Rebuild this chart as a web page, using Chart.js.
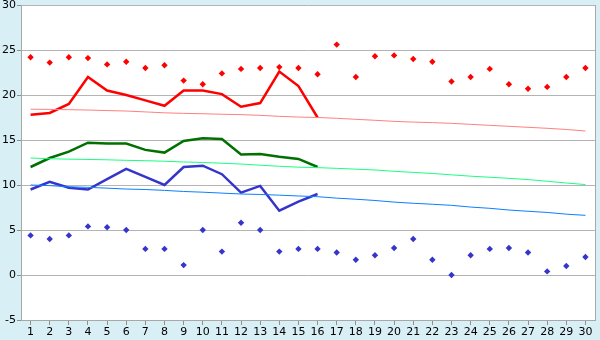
<!DOCTYPE html>
<html>
<head>
<meta charset="utf-8">
<script src="https://cdn.jsdelivr.net/npm/chart.js@4"></script>
<style>
    html, body { margin: 0; padding: 0; background: #d9eff6; }
    #wrap { width: 600px; height: 340px; }
</style>
</head>
<body>
<div id="wrap"><canvas id="tempChart" width="600" height="340"></canvas></div>
<script>
// Days of the month
const days = ['1', '2', '3', '4', '5', '6', '7', '8', '9', '10', '11', '12', '13', '14', '15',
    '16', '17', '18', '19', '20', '21', '22', '23', '24', '25', '26', '27', '28', '29', '30'];

// Record highs / lows (diamonds)
const recordHigh = [24.2, 23.6, 24.2, 24.1, 23.4, 23.7, 23.0, 23.3, 21.6, 21.2, 22.4, 22.9, 23.0, 23.1, 23.0,
    22.3, 25.6, 22.0, 24.3, 24.4, 24.0, 23.7, 21.5, 22.0, 22.9, 21.2, 20.7, 20.9, 22.0, 23.0];
const recordLow = [4.4, 4.0, 4.4, 5.4, 5.3, 5.0, 2.9, 2.9, 1.1, 5.0, 2.6, 5.8, 5.0, 2.6, 2.9,
    2.9, 2.5, 1.7, 2.2, 3.0, 4.0, 1.7, 0.0, 2.2, 2.9, 3.0, 2.5, 0.4, 1.0, 2.0];

// Current month (first 16 days)
const maxTemp = [17.8, 18.0, 19.0, 22.0, 20.5, 20.0, 19.4, 18.8, 20.5, 20.5, 20.1, 18.7, 19.1, 22.6, 21.0, 17.5];
const meanTemp = [12.0, 13.0, 13.7, 14.7, 14.6, 14.6, 13.9, 13.6, 14.9, 15.2, 15.1, 13.4, 13.45, 13.15, 12.9, 12.0];
const minTemp = [9.5, 10.35, 9.7, 9.5, 10.65, 11.8, 10.9, 10.0, 12.0, 12.15, 11.2, 9.15, 9.9, 7.15, 8.15, 9.0];

// Long-term normals (thin lines)
const normalMax = [18.42, 18.40, 18.37, 18.33, 18.27, 18.22, 18.12, 18.02, 17.96, 17.92, 17.86, 17.82, 17.74, 17.63, 17.55,
    17.50, 17.41, 17.30, 17.19, 17.07, 16.99, 16.93, 16.85, 16.74, 16.63, 16.52, 16.41, 16.30, 16.17, 16.00];
const normalMean = [13.0, 12.92, 12.87, 12.84, 12.8, 12.74, 12.7, 12.64, 12.56, 12.5, 12.42, 12.33, 12.2, 12.08, 11.98,
    11.93, 11.85, 11.76, 11.67, 11.52, 11.40, 11.28, 11.13, 10.98, 10.86, 10.74, 10.6, 10.42, 10.22, 10.05];
const normalMin = [10.0, 9.93, 9.8, 9.74, 9.65, 9.55, 9.5, 9.4, 9.28, 9.2, 9.1, 9.0, 8.95, 8.87, 8.78,
    8.7, 8.54, 8.42, 8.28, 8.1, 7.97, 7.86, 7.74, 7.55, 7.41, 7.22, 7.08, 6.95, 6.76, 6.63];

const yTicks = [-5, 0, 5, 10, 15, 20, 25, 30];

// white plot area + right border
const plotArea = {
    id: 'plotArea',
    beforeDraw(chart) {
        const { ctx, chartArea: a } = chart;
        ctx.save();
        ctx.fillStyle = '#ffffff';
        ctx.fillRect(a.left, a.top, a.right - a.left, a.bottom - a.top);
        ctx.restore();
    },
    afterDraw(chart) {
        const { ctx, chartArea: a } = chart;
        ctx.save();
        ctx.strokeStyle = '#a8a8a8';
        ctx.lineWidth = 1;
        ctx.beginPath();
        ctx.moveTo(Math.round(a.right) + 0.5, a.top);
        ctx.lineTo(Math.round(a.right) + 0.5, a.bottom);
        ctx.stroke();
        ctx.restore();
    }
};

const thin = (data, color) => ({
    data, borderColor: color, borderWidth: 1, pointRadius: 0, fill: false, tension: 0
});
const thick = (data, color) => ({
    data, borderColor: color, borderWidth: 2.5, pointRadius: 0, fill: false, tension: 0
});
const dots = (data, color) => ({
    data, showLine: false, pointStyle: 'rectRot', pointRadius: 3.2,
    pointBackgroundColor: color, pointBorderColor: color, pointBorderWidth: 0
});

const ctx = document.getElementById('tempChart').getContext('2d');
new Chart(ctx, {
    type: 'line',
    data: {
        labels: days,
        datasets: [
            thin(normalMax, '#ff8080'),
            thin(normalMean, '#19ff80'),
            thin(normalMin, '#0a80ff'),
            thick(maxTemp, '#ff0000'),
            thick(meanTemp, '#007000'),
            thick(minTemp, '#3535cc'),
            dots(recordHigh, '#ff0000'),
            dots(recordLow, '#3535cc')
        ]
    },
    options: {
        responsive: false,
        animation: false,
        devicePixelRatio: 1,
        layout: { padding: { top: 5, right: 5, left: 0, bottom: 0 } },
        plugins: {
            legend: { display: false },
            tooltip: { enabled: false }
        },
        scales: {
            x: {
                offset: true,
                grid: {
                    offset: false,
                    drawOnChartArea: false,
                    drawTicks: true,
                    tickLength: 5,
                    color: '#909090'
                },
                border: { display: true, color: '#a8a8a8' },
                ticks: {
                    color: '#000',
                    font: { family: 'DejaVu Sans', size: 11 },
                    padding: 1,
                    maxRotation: 0,
                    autoSkip: false
                },
                afterFit(scale) {
                    scale.height = 20;
                    scale.paddingLeft = 0;
                    scale.paddingRight = 0;
                }
            },
            y: {
                min: -5,
                max: 30,
                afterBuildTicks(scale) { scale.ticks = yTicks.map(v => ({ value: v })); },
                grid: {
                    color: '#b4b4b4',
                    tickLength: 4,
                    tickColor: '#909090'
                },
                border: { display: true, color: '#a8a8a8' },
                ticks: {
                    color: '#000',
                    font: { family: 'DejaVu Sans', size: 11 },
                    padding: 1
                },
                afterFit(scale) {
                    scale.width = 21;
                    scale.paddingTop = 0;
                    scale.paddingBottom = 0;
                }
            }
        }
    },
    plugins: [plotArea]
});
</script>
</body>
</html>
